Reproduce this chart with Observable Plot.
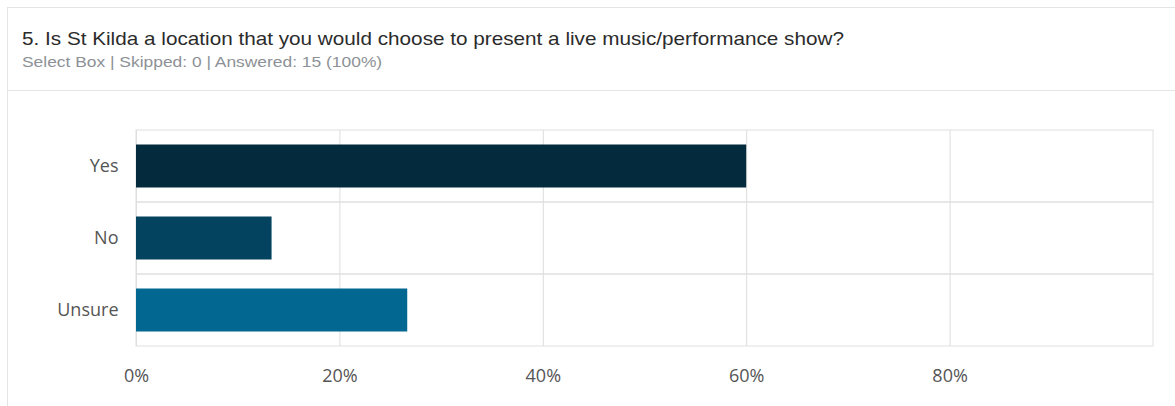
<!DOCTYPE html>
<html>
<head>
<meta charset="utf-8">
<script src="https://cdn.jsdelivr.net/npm/d3@7"></script>
<script src="https://cdn.jsdelivr.net/npm/@observablehq/plot@0.6"></script>
<style>
  html, body { margin: 0; padding: 0; background: #fff; width: 1175px; height: 406px; overflow: hidden; }
  #card { position: absolute; left: 7px; top: 7px; width: 1200px; height: 420px; border: 1px solid #e4e4e4; box-sizing: border-box; }
  #header { position: absolute; left: 7px; top: 7px; width: 1200px; height: 84px; border-bottom: 1px solid #e4e4e4; box-sizing: border-box; }
  #title { position: absolute; left: 22px; top: 28px; font-family: "Liberation Sans", Arial, sans-serif; font-size: 19px; color: #2b2b2b; white-space: nowrap; transform: scaleX(1.09); transform-origin: 0 0; }
  #subtitle { position: absolute; left: 22px; top: 53px; font-family: "Liberation Sans", Arial, sans-serif; font-size: 15px; color: #8d9196; white-space: nowrap; transform: scaleX(1.16); transform-origin: 0 0; }
  #chart { position: absolute; left: 0; top: 91px; }
</style>
</head>
<body>
<div id="card"></div>
<div id="header"></div>
<div id="title">5. Is St Kilda a location that you would choose to present a live music/performance show?</div>
<div id="subtitle">Select Box | Skipped: 0 | Answered: 15 (100%)</div>
<div id="chart"></div>
<script>
const categories = ["Yes", "No", "Unsure"];
const values = [60, 13.33, 26.67];
const colors = ["#032b3d", "#04435f", "#036891"];
const xTicks = [0, 20, 40, 60, 80];

const data = categories.map((c, i) => ({answer: c, pct: values[i]}));

const chart = Plot.plot({
  width: 1175,
  height: 315,
  marginLeft: 136,
  marginRight: 22,
  marginTop: 39,
  marginBottom: 60,
  style: {fontFamily: "'Open Sans', Lato, sans-serif", fontSize: "18px", color: "#555", background: "transparent"},
  x: {domain: [0, 100], label: null},
  y: {domain: categories, padding: 0, label: null},
  color: {domain: categories, range: colors},
  marks: [
    Plot.gridX({ticks: xTicks, stroke: "#dcdcdc", strokeOpacity: 1}),
    Plot.cell(categories, {y: d => d, fill: "none", stroke: "#e0e0e0"}),
    Plot.barX(data, {x: "pct", y: "answer", fill: "answer", insetTop: 14.5, insetBottom: 14.5}),
    Plot.axisX({ticks: xTicks, tickSize: 0, tickPadding: 23, tickFormat: d => d + "%", label: null}),
    Plot.axisY({tickSize: 0, tickPadding: 18, label: null})
  ]
});
document.getElementById("chart").appendChild(chart);
</script>
</body>
</html>
